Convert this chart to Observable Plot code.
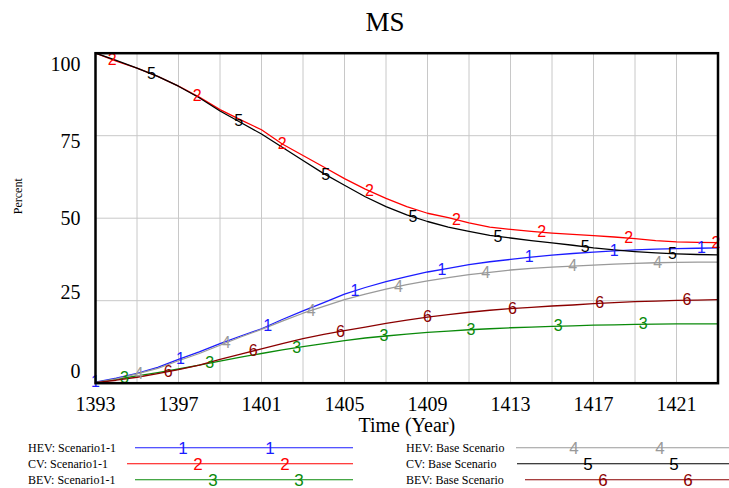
<!DOCTYPE html>
<html>
<head>
<meta charset="utf-8">
<script src="https://cdn.jsdelivr.net/npm/d3@7"></script>
<script src="https://cdn.jsdelivr.net/npm/@observablehq/plot@0.6"></script>
<style>
  body { margin: 0; background: #fff; }
  #wrap { position: relative; width: 729px; height: 488px; overflow: hidden;
          font-family: "Liberation Serif", "Times New Roman", serif; color: #000; }
  #title { width: 729px; height: 40px; line-height: 44px; font-size: 27px;
           text-align: center; padding-left: 41px; box-sizing: border-box; }
  #chart svg { display: block; }
  .lg-label { position: absolute; font-size: 12px; white-space: nowrap;
              transform: translateY(-50%); line-height: 1; }
  .lg-line { position: absolute; height: 0; border-top: 1.5px solid; transform: translateY(-0.75px); }
  .lg-digit { position: absolute; font-family: "Liberation Sans", Arial, sans-serif; font-size: 17px;
              line-height: 1; transform: translate(-50%, -50%); }
</style>
</head>
<body>
<div id="wrap">
  <div id="title">MS</div>
  <div id="chart"></div>
  <div id="legend"></div>
</div>
<script>
// Simulation years
const years = [1393, 1394, 1395, 1396, 1397, 1398, 1399, 1400, 1401, 1402, 1403,
               1404, 1405, 1406, 1407, 1408, 1409, 1410, 1411, 1412, 1413,
               1414, 1415, 1416, 1417, 1418, 1419, 1420, 1421, 1422, 1423];

// Market share (percent) per vehicle type and scenario
const hevScenario1 = [0.3, 1.5, 3.0, 4.8, 7.2, 9.5, 12.0, 14.3, 16.5, 19.3, 21.9,
                      24.4, 27.0, 29.0, 30.8, 32.3, 33.7, 34.8, 35.9, 36.8, 37.5,
                      38.2, 38.8, 39.3, 39.7, 40.1, 40.4, 40.6, 40.8, 40.9, 41.0];
const cvScenario1  = [100, 97.6, 95.5, 93.0, 90.0, 86.7, 82.9, 79.8, 76.8, 72.5, 69.0,
                      65.5, 62.0, 58.8, 56.0, 53.5, 51.5, 50.2, 48.6, 47.3, 46.6,
                      46.0, 45.5, 45.1, 44.7, 44.3, 43.8, 43.2, 42.8, 42.7, 42.6];
const bevScenario1 = [0.2, 1.2, 2.2, 3.2, 4.3, 5.5, 6.7, 7.9, 9.0, 10.1, 11.1,
                      12.0, 12.9, 13.7, 14.3, 14.9, 15.4, 15.8, 16.2, 16.5, 16.8,
                      17.0, 17.2, 17.4, 17.6, 17.7, 17.8, 17.9, 18.0, 18.0, 18.0];
const hevBase      = [0.2, 1.3, 2.8, 4.5, 6.8, 9.0, 11.5, 14.0, 16.3, 18.8, 21.2,
                      23.3, 25.3, 27.0, 28.5, 29.9, 31.0, 32.0, 32.9, 33.6, 34.3,
                      34.8, 35.2, 35.5, 35.8, 36.1, 36.3, 36.5, 36.6, 36.7, 36.7];
const cvBase       = [100, 97.8, 95.5, 93.0, 90.0, 86.5, 82.5, 79.0, 75.5, 71.5, 67.5,
                      63.5, 60.0, 56.5, 53.5, 51.0, 49.0, 47.3, 46.0, 44.8, 44.0,
                      43.2, 42.5, 41.8, 41.0, 40.4, 39.9, 39.5, 39.2, 39.0, 38.9];
const bevBase      = [0.2, 0.9, 1.8, 2.9, 4.1, 5.5, 7.2, 8.8, 10.4, 12.0, 13.5,
                      14.8, 15.9, 17.0, 18.1, 19.1, 20.0, 20.8, 21.5, 22.1, 22.6,
                      23.0, 23.4, 23.7, 24.1, 24.4, 24.7, 24.9, 25.1, 25.2, 25.3];

// Years at which each series carries its number marker
const markYears1 = [1393.0, 1397.1, 1401.3, 1405.5, 1409.7, 1413.9, 1418.0, 1422.2];
const markYears2 = [1393.8, 1397.9, 1402.0, 1406.2, 1410.4, 1414.5, 1418.7, 1422.9];
const markYears3 = [1394.4, 1398.5, 1402.7, 1406.9, 1411.1, 1415.3, 1419.4];
const markYears4 = [1395.1, 1399.3, 1403.4, 1407.6, 1411.8, 1416.0, 1420.1];
const markYears5 = [1395.7, 1399.9, 1404.1, 1408.3, 1412.4, 1416.6, 1420.8];
const markYears6 = [1396.5, 1400.6, 1404.8, 1409.0, 1413.1, 1417.3, 1421.5];

// Axis ticks and grid
const xTickLabels = [1393, 1397, 1401, 1405, 1409, 1413, 1417, 1421];
const xGrid = [1395, 1397, 1399, 1401, 1403, 1405, 1407, 1409, 1411, 1413, 1415, 1417, 1419, 1421];
const yTickLabels = [0, 25, 50, 75, 100];
const yGrid = [25, 50, 75];

const series = [
  {name: "HEV: Scenario1-1",   digit: "1", color: "#1c1cff", values: hevScenario1, marks: markYears1},
  {name: "CV: Scenario1-1",    digit: "2", color: "#ff0000", values: cvScenario1,  marks: markYears2},
  {name: "BEV: Scenario1-1",   digit: "3", color: "#0a8a0a", values: bevScenario1, marks: markYears3},
  {name: "HEV: Base Scenario", digit: "4", color: "#9a9a9a", values: hevBase,      marks: markYears4},
  {name: "CV: Base Scenario",  digit: "5", color: "#000000", values: cvBase,       marks: markYears5},
  {name: "BEV: Base Scenario", digit: "6", color: "#8b0000", values: bevBase,      marks: markYears6}
];

// Linear interpolation of a series at a fractional year
function valueAt(values, yr) {
  const i = Math.max(0, Math.min(years.length - 2, Math.floor(yr - years[0])));
  const t = yr - years[i];
  return values[i] * (1 - t) + values[i + 1] * t;
}

const rows = series.flatMap(s => years.map((yr, i) => ({series: s.name, year: yr, value: s.values[i]})));
const markers = series.flatMap(s => s.marks.map(yr => ({
  year: yr, value: valueAt(s.values, yr), digit: s.digit, color: s.color
})));

// Vertical nudge of y tick labels, keeping the end labels inside the frame
const yLabelShift = {0: -11.5, 25: -8, 50: 0, 75: 6, 100: 11.5};

const serif = "Liberation Serif, Times New Roman, serif";
const sans = "Liberation Sans, Arial, sans-serif";

const chart = Plot.plot({
  width: 729,
  height: 400,
  marginLeft: 95,
  marginRight: 11.5,
  marginTop: 12.7,
  marginBottom: 57.3,
  x: {domain: [1393, 1423], axis: null},
  y: {domain: [0, 100], axis: null},
  style: {fontFamily: serif, background: "white", overflow: "visible"},
  marks: [
    Plot.ruleX(xGrid, {stroke: "#c8c8c8", strokeWidth: 1}),
    Plot.ruleY(yGrid, {stroke: "#c8c8c8", strokeWidth: 1}),
    ...series.map(s => Plot.line(rows.filter(r => r.series === s.name), {
      x: "year", y: "value", stroke: s.color, strokeWidth: 1.3
    })),
    Plot.text(markers, {
      x: "year", y: "value", text: "digit", fill: "color",
      fontFamily: sans, fontSize: 16, textAnchor: "middle", lineAnchor: "middle"
    }),
    Plot.frame({stroke: "black", strokeWidth: 2.5}),
    Plot.text(xTickLabels, {
      x: d => d, text: d => String(d), frameAnchor: "bottom", dy: 21,
      fontSize: 20, fontFamily: serif, lineAnchor: "middle", fill: "black"
    }),
    ...yTickLabels.map(v => Plot.text([v], {
      y: d => d, text: d => String(d), frameAnchor: "left", dx: -15, dy: yLabelShift[v],
      textAnchor: "end", lineAnchor: "middle", fontSize: 20, fontFamily: serif, fill: "black"
    })),
    Plot.text(["Time (Year)"], {
      frameAnchor: "bottom", dy: 42, fontSize: 20, fontFamily: serif,
      lineAnchor: "middle", fill: "black"
    }),
    Plot.text(["Percent"], {
      frameAnchor: "left", dx: -77, dy: -4, rotate: -90, fontSize: 12,
      fontFamily: serif, lineAnchor: "middle", fill: "black"
    })
  ]
});
document.getElementById("chart").appendChild(chart);

// Legend below the chart: two columns of three entries
const legendLayout = [
  {labelX: 28,  lineX1: 135, lineX2: 353, digitX: [183, 270], y: 448},
  {labelX: 28,  lineX1: 127, lineX2: 353, digitX: [198, 285], y: 464},
  {labelX: 28,  lineX1: 135, lineX2: 353, digitX: [213, 299], y: 480},
  {labelX: 406, lineX1: 516, lineX2: 729, digitX: [574, 660], y: 448},
  {labelX: 406, lineX1: 517, lineX2: 729, digitX: [588, 674], y: 464},
  {labelX: 406, lineX1: 525, lineX2: 729, digitX: [603, 688], y: 480}
];
const wrap = d3.select("#wrap");
series.forEach((s, i) => {
  const L = legendLayout[i];
  wrap.append("div").attr("class", "lg-label")
    .style("left", L.labelX + "px").style("top", L.y + "px").text(s.name);
  wrap.append("div").attr("class", "lg-line")
    .style("left", L.lineX1 + "px").style("top", L.y + "px")
    .style("width", (L.lineX2 - L.lineX1) + "px").style("border-color", s.color);
  L.digitX.forEach(x => {
    wrap.append("div").attr("class", "lg-digit")
      .style("left", x + "px").style("top", L.y + "px")
      .style("color", s.color).text(s.digit);
  });
});
</script>
</body>
</html>
